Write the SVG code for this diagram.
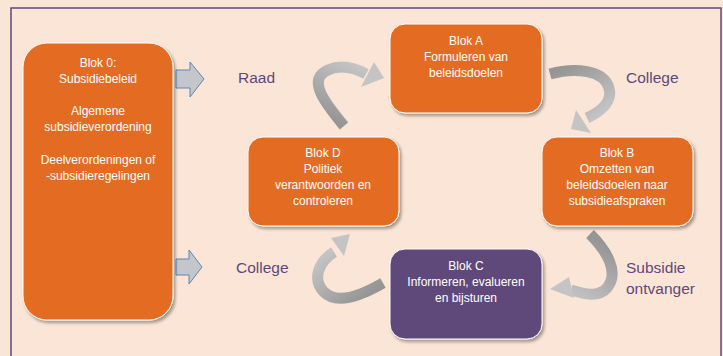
<svg xmlns="http://www.w3.org/2000/svg" width="723" height="356" viewBox="0 0 723 356">
<defs>
<style>
.blk{stroke:#ffffff;stroke-width:1;filter:url(#sh)}
.or{fill:#E46C20}
.pu{fill:#5F497A}
.bt{font-family:"Liberation Sans",Arial,sans-serif;font-size:12px;fill:#ffffff;text-anchor:middle}
.lb{font-family:"Liberation Sans",Arial,sans-serif;font-size:15.5px;fill:#5F497A}
.ba{fill:#C3C7CC;stroke:#5E86B4;stroke-width:1}
.rib{fill:none;stroke-width:11;stroke-linecap:butt}
</style>
<filter id="sh" x="-10%" y="-10%" width="130%" height="130%">
<feDropShadow dx="2" dy="2.5" stdDeviation="1.5" flood-color="#000" flood-opacity="0.35"/>
</filter>
<linearGradient id="g1" gradientUnits="userSpaceOnUse" x1="343" y1="126" x2="370" y2="72"><stop offset="0" stop-color="#959595"/><stop offset="1" stop-color="#C4C4C4"/></linearGradient>
<linearGradient id="g2" gradientUnits="userSpaceOnUse" x1="552" y1="74" x2="585" y2="125"><stop offset="0" stop-color="#959595"/><stop offset="1" stop-color="#C4C4C4"/></linearGradient>
<linearGradient id="g3" gradientUnits="userSpaceOnUse" x1="592" y1="236" x2="560" y2="292"><stop offset="0" stop-color="#959595"/><stop offset="1" stop-color="#C4C4C4"/></linearGradient>
<linearGradient id="g4" gradientUnits="userSpaceOnUse" x1="382" y1="284" x2="345" y2="238"><stop offset="0" stop-color="#959595"/><stop offset="1" stop-color="#C4C4C4"/></linearGradient>
</defs>
<rect x="0" y="0" width="723" height="356" fill="#FBE5D6"/>
<rect x="11" y="8" width="710" height="360" fill="none" stroke="#604A7B" stroke-width="1.5"/>

<g id="connectors">
<polygon class="ba" points="176,70 190,70 190,62 204,79 190,97 190,88 176,88"/>
<polygon class="ba" points="176,259 189,259 189,250 202,267 189,284 189,275 176,275"/>
<path class="rib" stroke="url(#g1)" d="M344,126 C326,104 306,80 328,70 C342,64 355,68 366,74"/>
<polygon fill="#C4C4C4" points="374,62 384,78 361,87"/>
<path class="rib" stroke="url(#g2)" d="M550,74 C575,67 604,70 609,88 C613,102 600,112 587,118"/>
<polygon fill="#C4C4C4" points="576,110 591,133 571,129"/>
<path class="rib" stroke="url(#g3)" d="M590,234 C606,250 620,272 607,288 C598,298 584,294 571,290"/>
<polygon fill="#C4C4C4" points="569,277 550,289 574,298"/>
<path class="rib" stroke="url(#g4)" d="M383,283 C364,294 338,306 324,292 C312,280 318,262 334,252"/>
<polygon fill="#C4C4C4" points="331,238 350,234 344,256"/>
</g>

<g id="blok0">
<rect class="blk or" x="23" y="43" width="150" height="277" rx="24"/>
<text class="bt" x="98" y="67">Blok 0:</text>
<text class="bt" x="98" y="83">Subsidiebeleid</text>
<text class="bt" x="98" y="115">Algemene</text>
<text class="bt" x="98" y="131">subsidieverordening</text>
<text class="bt" x="98" y="164">Deelverordeningen of</text>
<text class="bt" x="98" y="180">-subsidieregelingen</text>
</g>

<g id="blokA">
<rect class="blk or" x="390" y="24" width="152" height="89" rx="15"/>
<text class="bt" x="466" y="45">Blok A</text>
<text class="bt" x="466" y="61">Formuleren van</text>
<text class="bt" x="466" y="77">beleidsdoelen</text>
</g>

<g id="blokB">
<rect class="blk or" x="542" y="137" width="151" height="89" rx="15"/>
<text class="bt" x="617" y="157">Blok B</text>
<text class="bt" x="617" y="173">Omzetten van</text>
<text class="bt" x="617" y="189">beleidsdoelen naar</text>
<text class="bt" x="617" y="205">subsidieafspraken</text>
</g>

<g id="blokC">
<rect class="blk pu" x="390" y="249" width="152" height="90" rx="15"/>
<text class="bt" x="466" y="270">Blok C</text>
<text class="bt" x="466" y="286">Informeren, evalueren</text>
<text class="bt" x="466" y="302">en bijsturen</text>
</g>

<g id="blokD">
<rect class="blk or" x="248" y="137" width="151" height="89" rx="15"/>
<text class="bt" x="323" y="157">Blok D</text>
<text class="bt" x="323" y="173">Politiek</text>
<text class="bt" x="323" y="189">verantwoorden en</text>
<text class="bt" x="323" y="205">controleren</text>
</g>

<g id="labels">
<text class="lb" x="238" y="83">Raad</text>
<text class="lb" x="626" y="83">College</text>
<text class="lb" x="236" y="273">College</text>
<text class="lb" x="626" y="273">Subsidie</text>
<text class="lb" x="626" y="294">ontvanger</text>
</g>
</svg>
